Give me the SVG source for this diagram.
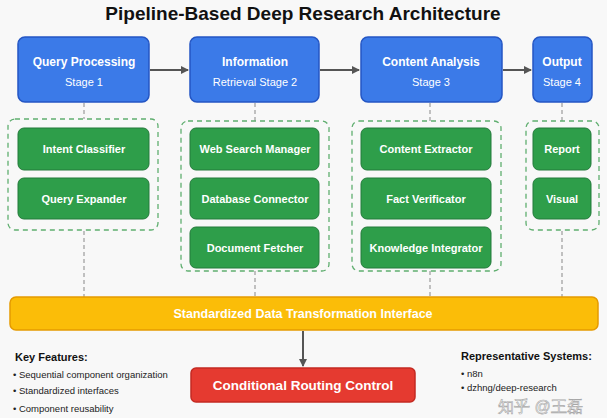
<svg xmlns="http://www.w3.org/2000/svg" width="607" height="418" viewBox="0 0 607 418">
<style>
text{font-family:"Liberation Sans",Arial,sans-serif}
.blue{fill:#3b7ae8;stroke:#2456c4;stroke-width:1.5}
.green{fill:#2e9e4a;stroke:#237a3a;stroke-width:1}
.cont{fill:none;stroke:#5fae6f;stroke-width:1.3;stroke-dasharray:5,4}
.dash{stroke:#888;stroke-width:1;stroke-dasharray:4,3;fill:none}
.bt{fill:#fff;font-weight:bold;font-size:12px;text-anchor:middle}
.bs{fill:#fff;font-size:11px;text-anchor:middle}
.gt{fill:#fff;font-weight:bold;font-size:11px;text-anchor:middle}
.ft{fill:#222;font-size:9.5px}
</style>
<defs><marker id="ah" markerWidth="8" markerHeight="8" refX="7" refY="4" orient="auto" markerUnits="userSpaceOnUse"><path d="M0,0L8,4L0,8z" fill="#555"/></marker></defs>
<rect width="607" height="418" fill="#f8f8f8"/>
<text x="303" y="20" text-anchor="middle" font-size="19" font-weight="bold" fill="#111">Pipeline-Based Deep Research Architecture</text>
<g id="connectors">
<line x1="150" y1="70" x2="188" y2="70" stroke="#555" stroke-width="2" marker-end="url(#ah)"/>
<line x1="320" y1="70" x2="359" y2="70" stroke="#555" stroke-width="2" marker-end="url(#ah)"/>
<line x1="503" y1="70" x2="531" y2="70" stroke="#555" stroke-width="2" marker-end="url(#ah)"/>
<path class="dash" d="M84,103V119M255,103V121M430,103V121M562,103V121"/>
<path class="dash" d="M84,231V297M255,271V297M430,271V297M562,231V297"/>
<line x1="303" y1="331" x2="303" y2="366" stroke="#555" stroke-width="2" marker-end="url(#ah)"/>
</g>
<g id="stage1"><rect class="blue" x="18" y="37" width="131" height="65" rx="7"/><text class="bt" x="84" y="66">Query Processing</text><text class="bs" x="84" y="86">Stage 1</text></g>
<g id="stage2"><rect class="blue" x="190" y="37" width="129" height="65" rx="7"/><text class="bt" x="255" y="66">Information</text><text class="bs" x="255" y="86">Retrieval Stage 2</text></g>
<g id="stage3"><rect class="blue" x="361" y="37" width="141" height="65" rx="7"/><text class="bt" x="431" y="66">Content Analysis</text><text class="bs" x="431" y="86">Stage 3</text></g>
<g id="stage4"><rect class="blue" x="533" y="37" width="59" height="65" rx="7"/><text class="bt" x="562" y="66">Output</text><text class="bs" x="562" y="86">Stage 4</text></g>
<g id="group1"><rect class="cont" x="8" y="119" width="150" height="111" rx="7"/>
<rect class="green" x="18" y="128" width="131" height="42" rx="6"/><text class="gt" x="84" y="153">Intent Classifier</text>
<rect class="green" x="18" y="178" width="131" height="41" rx="6"/><text class="gt" x="84" y="203">Query Expander</text></g>
<g id="group2"><rect class="cont" x="181" y="121" width="148" height="150" rx="7"/>
<rect class="green" x="190" y="128" width="129" height="42" rx="6"/><text class="gt" x="255" y="153">Web Search Manager</text>
<rect class="green" x="190" y="178" width="129" height="41" rx="6"/><text class="gt" x="255" y="203">Database Connector</text>
<rect class="green" x="190" y="227" width="129" height="41" rx="6"/><text class="gt" x="255" y="252">Document Fetcher</text></g>
<g id="group3"><rect class="cont" x="352" y="121" width="149" height="150" rx="7"/>
<rect class="green" x="361" y="128" width="130" height="42" rx="6"/><text class="gt" x="426" y="153">Content Extractor</text>
<rect class="green" x="361" y="178" width="130" height="41" rx="6"/><text class="gt" x="426" y="203">Fact Verificator</text>
<rect class="green" x="361" y="227" width="130" height="41" rx="6"/><text class="gt" x="426" y="252">Knowledge Integrator</text></g>
<g id="group4"><rect class="cont" x="526" y="121" width="73" height="109" rx="7"/>
<rect class="green" x="533" y="128" width="58" height="42" rx="6"/><text class="gt" x="562" y="153">Report</text>
<rect class="green" x="533" y="178" width="58" height="41" rx="6"/><text class="gt" x="562" y="203">Visual</text></g>
<g id="interface"><rect x="10" y="297" width="588" height="33" rx="6" fill="#fbbd08" stroke="#e59a00" stroke-width="1.5"/><text x="303" y="318" text-anchor="middle" font-size="12.5" font-weight="bold" fill="#fff">Standardized Data Transformation Interface</text></g>
<g id="routing"><rect x="191" y="368" width="224" height="34" rx="5" fill="#e53a30" stroke="#c42a22" stroke-width="1.5"/><text x="303" y="390" text-anchor="middle" font-size="13.5" font-weight="bold" fill="#fff">Conditional Routing Control</text></g>
<g id="features"><text x="15" y="361" font-size="11" font-weight="bold" fill="#111">Key Features:</text>
<text class="ft" x="13" y="378">• Sequential component organization</text>
<text class="ft" x="13" y="394">• Standardized interfaces</text>
<text class="ft" x="13" y="412">• Component reusability</text></g>
<g id="systems"><text x="461" y="360" font-size="11" font-weight="bold" fill="#111">Representative Systems:</text>
<text class="ft" x="461" y="377">• n8n</text>
<text class="ft" x="461" y="391">• dzhng/deep-research</text></g>
<text x="498" y="412" font-size="16" fill="#fff" stroke="#999" stroke-width="0.6" font-family="'Liberation Sans','Noto Sans CJK SC',sans-serif" opacity="0.85">知乎 @王磊</text>
</svg>
